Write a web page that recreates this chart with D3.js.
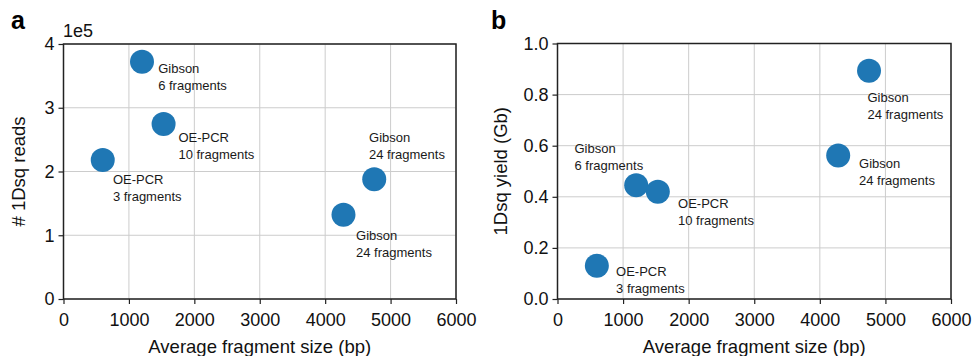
<!DOCTYPE html>
<html>
<head>
<meta charset="utf-8">
<script src="https://cdn.jsdelivr.net/npm/d3@7"></script>
<style>
    body { margin: 0; background: #fff; }
    svg { display: block; font-family: "Liberation Sans", Arial, Helvetica, sans-serif; }
</style>
</head>
<body>
<div class="visual"></div>
<script>
// fragment size (bp) for the five constructs, same in both panels
const fragSize = [600, 1200, 1530, 4280, 4750];
const readsA = [2.18, 3.72, 2.745, 1.32, 1.88];      // # 1Dsq reads (x1e5)
const yieldB = [0.13, 0.445, 0.42, 0.562, 0.893];    // 1Dsq yield (Gb)

const methods = ["OE-PCR", "Gibson", "OE-PCR", "Gibson", "Gibson"];
const fragCounts = ["3 fragments", "6 fragments", "10 fragments", "24 fragments", "24 fragments"];

// annotation anchors in data units (first line baseline)
const labelXA = [755, 1447, 1757, 4472, 4671];
const labelYA = [1.80, 3.54, 2.46, 0.93, 2.46];
const labelXB = [893, 259, 1838, 4598, 4726];
const labelYB = [0.091, 0.572, 0.357, 0.513, 0.772];

const xTicks = [0, 1000, 2000, 3000, 4000, 5000, 6000];
const yTicksA = [0, 1, 2, 3, 4];
const yTicksB = [0, 0.2, 0.4, 0.6, 0.8, 1.0];

const W = 973, H = 356;
const dotColor = "#1f77b4";

const svg = d3.select(".visual")
    .append("svg")
    .attr("width", W)
    .attr("height", H);

function drawPanel(opts) {
    const g = svg.append("g");

    const x = d3.scaleLinear().domain([0, 6000]).range([opts.left, opts.right]);
    const y = d3.scaleLinear().domain(opts.yDomain).range([opts.bottom, opts.top]);

    // grid
    g.append("g")
        .selectAll("line")
        .data(xTicks)
        .enter()
        .append("line")
        .attr("x1", d => x(d)).attr("x2", d => x(d))
        .attr("y1", opts.top).attr("y2", opts.bottom)
        .attr("stroke", "#cccccc")
        .attr("stroke-width", 1);

    g.append("g")
        .selectAll("line")
        .data(opts.yTicks)
        .enter()
        .append("line")
        .attr("x1", opts.left).attr("x2", opts.right)
        .attr("y1", d => y(d)).attr("y2", d => y(d))
        .attr("stroke", "#cccccc")
        .attr("stroke-width", 1);

    // axes
    const xAxis = g.append("g")
        .attr("transform", `translate(0,${opts.bottom})`)
        .call(d3.axisBottom(x).tickValues(xTicks).tickFormat(d3.format("d")).tickSize(5).tickPadding(9));
    const yAxis = g.append("g")
        .attr("transform", `translate(${opts.left},0)`)
        .call(d3.axisLeft(y).tickValues(opts.yTicks).tickFormat(opts.yFormat).tickSize(5).tickPadding(4));

    [xAxis, yAxis].forEach(a => {
        a.select(".domain").remove();
        a.selectAll("line").attr("stroke", "#222").attr("stroke-width", 1.2);
        a.selectAll("text")
            .style("font-size", "18px")
            .attr("fill", "#111");
    });

    // frame
    g.append("rect")
        .attr("x", opts.left)
        .attr("y", opts.top)
        .attr("width", opts.right - opts.left)
        .attr("height", opts.bottom - opts.top)
        .attr("fill", "none")
        .attr("stroke", "#222")
        .attr("stroke-width", 1.5);

    // dots
    g.append("g")
        .selectAll("circle")
        .data(fragSize)
        .enter()
        .append("circle")
        .attr("cx", d => x(d))
        .attr("cy", (d, i) => y(opts.values[i]))
        .attr("r", 12)
        .attr("fill", dotColor);

    // annotations
    const ann = g.append("g")
        .selectAll("text")
        .data(methods)
        .enter()
        .append("text")
        .attr("x", (d, i) => x(opts.labelX[i]))
        .attr("y", (d, i) => y(opts.labelY[i]))
        .style("font-size", "13px")
        .attr("fill", "#1a1a1a");
    ann.append("tspan").text(d => d);
    ann.append("tspan")
        .attr("x", (d, i) => x(opts.labelX[i]))
        .attr("dy", 17)
        .text((d, i) => fragCounts[i]);

    // axis titles
    g.append("text")
        .attr("x", (opts.left + opts.right) / 2)
        .attr("y", 353)
        .attr("text-anchor", "middle")
        .style("font-size", "18.5px")
        .attr("fill", "#111")
        .text("Average fragment size (bp)");

    g.append("text")
        .attr("transform", `translate(${opts.yTitleX},${(opts.top + opts.bottom) / 2}) rotate(-90)`)
        .attr("text-anchor", "middle")
        .attr("dominant-baseline", "middle")
        .style("font-size", "18.5px")
        .attr("fill", "#111")
        .text(opts.yTitle);

    // panel letter
    g.append("text")
        .attr("x", opts.letterX)
        .attr("y", 29)
        .style("font-size", "25px")
        .style("font-weight", "bold")
        .attr("fill", "#000")
        .text(opts.letter);

    return g;
}

const panelA = drawPanel({
    left: 63.5, right: 456, top: 44, bottom: 299,
    yDomain: [0, 4], yTicks: yTicksA, yFormat: d3.format("d"),
    values: readsA, labelX: labelXA, labelY: labelYA,
    yTitle: "# 1Dsq reads", yTitleX: 20, letter: "a", letterX: 11
});

panelA.append("text")
    .attr("x", 63)
    .attr("y", 37)
    .style("font-size", "18px")
    .attr("fill", "#111")
    .text("1e5");

drawPanel({
    left: 557.5, right: 951, top: 43.5, bottom: 299,
    yDomain: [0, 1], yTicks: yTicksB, yFormat: d3.format(".1f"),
    values: yieldB, labelX: labelXB, labelY: labelYB,
    yTitle: "1Dsq yield (Gb)", yTitleX: 502, letter: "b", letterX: 491
});
</script>
</body>
</html>
